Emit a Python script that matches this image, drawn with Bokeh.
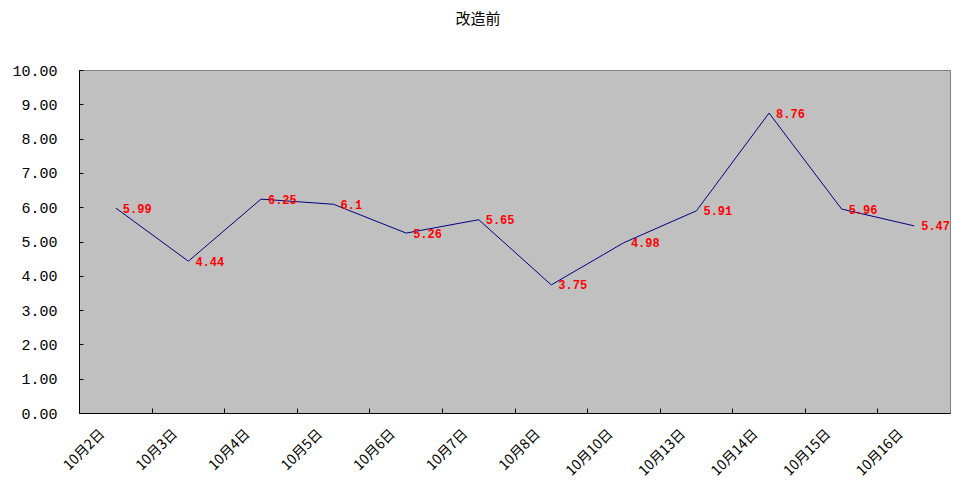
import math
import numpy as np
from bokeh.plotting import figure
from bokeh.models import Range1d, FixedTicker, ColumnDataSource, LabelSet, Title
from bokeh.core.properties import value
from bokeh.embed import file_html
from bokeh.resources import INLINE

dates = ["10月2日", "10月3日", "10月4日", "10月5日", "10月6日", "10月7日",
         "10月8日", "10月10日", "10月13日", "10月14日", "10月15日", "10月16日"]
values = [5.99, 4.44, 6.25, 6.1, 5.26, 5.65, 3.75, 4.98, 5.91, 8.76, 5.96, 5.47]
value_labels = ["5.99", "4.44", "6.25", "6.1", "5.26", "5.65", "3.75", "4.98",
                "5.91", "8.76", "5.96", "5.47"]
y_ticks = [0, 1, 2, 3, 4, 5, 6, 7, 8, 9, 10]

n = len(dates)
xs = np.arange(n) + 0.5
src = ColumnDataSource(dict(x=xs, y=values, lab=value_labels))

LABEL_SHIFT = 0.2  # horizontal nudge of rotated category labels (style)

p = figure(width=964, height=489, output_backend="svg", toolbar_location=None,
           title=None,
           x_range=Range1d(0, n), y_range=Range1d(0, 10),
           min_border_left=79, min_border_right=14, min_border_top=70,
           min_border_bottom=76)

# spacer (nearest the frame), then the visible title above it
p.add_layout(Title(text=" ", standoff=20, text_font_size="15px",
                   text_font="Noto Sans CJK SC"), "above")
p.add_layout(Title(text="改造前", align="left", offset=376,
                   text_font="Noto Sans CJK SC", text_font_size="15px",
                   text_font_style="normal", text_color="#000000", standoff=0),
             "above")

p.background_fill_color = "#C0C0C0"
p.border_fill_color = "white"
p.outline_line_color = "#808080"
p.outline_line_width = 1
p.xgrid.visible = False
p.ygrid.visible = False

p.line("x", "y", source=src, line_color="#000080", line_width=1)
labels = LabelSet(x="x", y="y", text="lab", source=src, x_offset=7, y_offset=0,
                  text_baseline="middle", text_align="left",
                  text_color="#FF0000", text_font=value("Liberation Mono"),
                  text_font_style="bold", text_font_size="12px")
p.add_layout(labels)

# x axis: labels at category centers, ticks at category boundaries
label_pos = [float(x - LABEL_SHIFT) for x in xs]
p.xaxis.ticker = FixedTicker(ticks=label_pos, minor_ticks=list(range(1, n)))
p.xaxis.major_label_overrides = {lp: d for lp, d in zip(label_pos, dates)}
p.xaxis.major_label_orientation = math.pi / 4
p.xaxis.major_tick_line_color = None
p.xaxis.minor_tick_line_color = "black"
p.xaxis.minor_tick_in = 5
p.xaxis.minor_tick_out = 0
p.xaxis.axis_line_color = "black"
p.xaxis.major_label_text_font = "Noto Sans CJK SC"
p.xaxis.major_label_text_font_size = "14px"
p.xaxis.major_label_text_color = "black"
p.xaxis.major_label_standoff = 11

# y axis
p.yaxis.ticker = FixedTicker(ticks=y_ticks)
p.yaxis.major_label_overrides = {t: f"{t:.2f}" for t in y_ticks}
p.yaxis.major_tick_in = 4
p.yaxis.major_tick_out = 0
p.yaxis.minor_tick_line_color = None
p.yaxis.axis_line_color = "black"
p.yaxis.major_label_text_font = "Liberation Mono"
p.yaxis.major_label_text_font_size = "15px"
p.yaxis.major_label_text_color = "black"
p.yaxis.major_label_standoff = 22

open("out.html", "w").write(file_html(p, INLINE))
